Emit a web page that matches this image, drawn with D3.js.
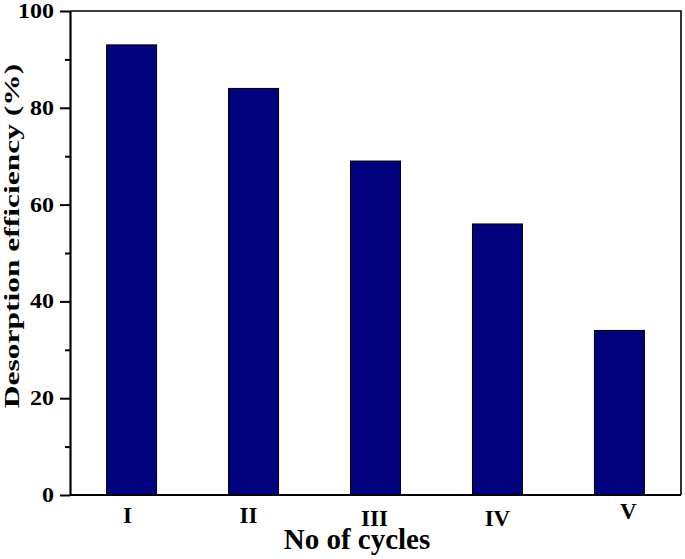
<!DOCTYPE html>
<html>
<head>
<meta charset="utf-8">
<script src="https://cdn.jsdelivr.net/npm/d3@7"></script>
<style>
  html, body { margin: 0; padding: 0; background: #fff; }
  svg { display: block; }
  text { font-family: "Liberation Serif", "Times New Roman", serif; font-weight: bold; fill: #000; }
</style>
</head>
<body>
<div id="chart"></div>
<script>
// data
var cycles = ['I', 'II', 'III', 'IV', 'V'];
var efficiency = [93, 84, 69, 56, 34];
var yTicks = [0, 20, 40, 60, 80, 100];
var yMinorTicks = [10, 30, 50, 70, 90];

// the source figure places its cycle labels a bit irregularly
var labelNudge = [[-4, 0], [-5, 0], [-1, 3], [0, 3], [9, -4]];

var width = 685, height = 559;
var margin = {top: 11, right: 4, bottom: 64, left: 70};

var svg = d3.select('#chart').append('svg')
    .attr('width', width)
    .attr('height', height);

var x = d3.scaleBand()
    .domain(cycles)
    .range([margin.left, width - margin.right])
    .paddingInner(0.59)
    .paddingOuter(0.3);

var y = d3.scaleLinear()
    .domain([0, 100])
    .range([height - margin.bottom, margin.top]);

// bars
svg.append('g')
    .selectAll('rect')
    .data(efficiency)
    .enter()
    .append('rect')
        .attr('x', function(d, i){ return x(cycles[i]); })
        .attr('y', function(d){ return y(d); })
        .attr('width', x.bandwidth())
        .attr('height', function(d){ return y(0) - y(d); })
        .attr('fill', '#02027f')
        .attr('stroke', '#000')
        .attr('stroke-width', 1);

// frame: top and right
svg.append('path')
    .attr('d', 'M' + margin.left + ',' + y(100) + 'H' + (width - margin.right) + 'V' + y(0))
    .attr('fill', 'none')
    .attr('stroke', '#000')
    .attr('stroke-width', 1.6);

// left axis with major and minor ticks
var yAxis = svg.append('g')
    .attr('transform', 'translate(' + margin.left + ',0)')
    .call(d3.axisLeft(y).tickValues(yTicks).tickSize(10).tickSizeOuter(0).tickFormat(''));
yAxis.select('.domain').attr('stroke-width', 2.2);
yAxis.selectAll('.tick line').attr('stroke-width', 2);

svg.append('g')
    .attr('transform', 'translate(' + margin.left + ',0)')
    .call(d3.axisLeft(y).tickValues(yMinorTicks).tickSize(5).tickSizeOuter(0).tickFormat(''))
    .call(function(g){ g.select('.domain').remove(); })
    .selectAll('.tick line').attr('stroke-width', 2);

// y tick labels (stretched like the source)
svg.append('g')
    .selectAll('text')
    .data(yTicks)
    .enter()
    .append('text')
        .attr('transform', function(d){ return 'translate(54,' + (y(d) + 7) + ') scale(1.2,1)'; })
        .attr('text-anchor', 'end')
        .attr('font-size', '20px')
        .text(function(d){ return d; });

// bottom axis line
svg.append('line')
    .attr('x1', margin.left)
    .attr('x2', width - margin.right)
    .attr('y1', y(0))
    .attr('y2', y(0))
    .attr('stroke', '#000')
    .attr('stroke-width', 2.2);

// x tick labels
svg.append('g')
    .selectAll('text')
    .data(cycles)
    .enter()
    .append('text')
        .attr('x', function(d, i){ return x(d) + x.bandwidth() / 2 + labelNudge[i][0]; })
        .attr('y', function(d, i){ return y(0) + 28 + labelNudge[i][1]; })
        .attr('text-anchor', 'middle')
        .attr('font-size', '23px')
        .text(function(d){ return d; });

// axis titles
svg.append('text')
    .attr('x', 357)
    .attr('y', 549)
    .attr('text-anchor', 'middle')
    .attr('font-size', '29px')
    .text('No of cycles');

svg.append('text')
    .attr('transform', 'translate(19,236) rotate(-90) scale(1.5,1)')
    .attr('text-anchor', 'middle')
    .attr('font-size', '21px')
    .text('Desorption efficiency (%)');
</script>
</body>
</html>
